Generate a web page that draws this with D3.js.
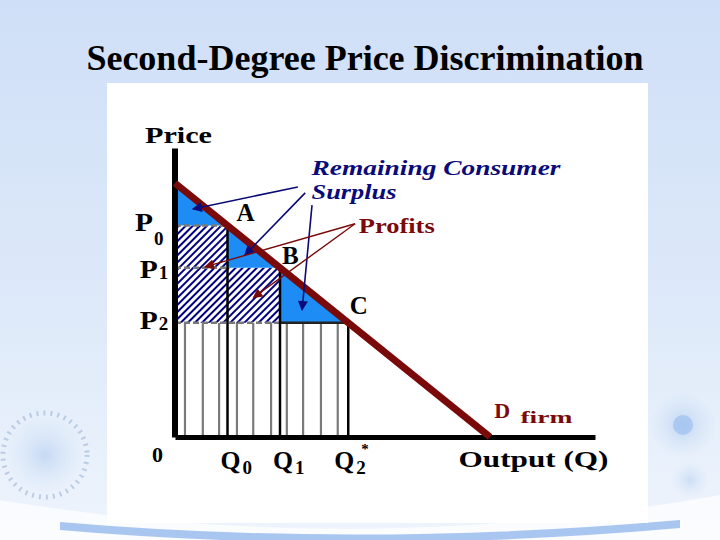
<!DOCTYPE html>
<html><head><meta charset="utf-8">
<script src="https://cdn.jsdelivr.net/npm/d3@7"></script>
<style>html,body{margin:0;padding:0;background:#fff;}svg{display:block;}</style>
</head><body>
<svg id="c" width="720" height="540"></svg>
<script>
// ---- data (model units: quantity Q, price P) ----
const titleText = "Second-Degree Price Discrimination";
const demandQ = [0, 6];
const demandP = [6, 0];
const stepQ = [1, 2, 3.3];          // Q0, Q1, Q*2
const stepP = [5, 4, 2.7];          // P0, P1, P2
const blockLabels = ["A", "B", "C"];
const priceLabels = ["P", "P", "P"];
const priceSubs = ["0", "1", "2"];
const qtyLabels = ["Q", "Q", "Q"];
const qtySubs = ["0", "1", "2"];
const gridQ = [0.19, 0.53, 0.84, 1.18, 1.49, 1.83, 2.13, 2.44, 2.78, 3.10];
const csArrows = [ // [tailQ, tailP, headQ, headP]
  [2.34, 5.91, 0.34, 5.39],
  [2.48, 5.77, 1.33, 4.30],
  [2.61, 5.48, 2.42, 3.00]
];
const profitArrows = [
  [3.43, 5.04, 0.57, 4.02],
  [3.43, 5.04, 1.49, 3.29]
];

const svg = d3.select("#c");
const defs = svg.append("defs");

// ---- slide background ----
const bg = defs.append("linearGradient").attr("id","bg").attr("x1",0).attr("y1",0).attr("x2",0).attr("y2",1);
bg.append("stop").attr("offset","0%").attr("stop-color","#cfdff7");
bg.append("stop").attr("offset","55%").attr("stop-color","#dde9f9");
bg.append("stop").attr("offset","100%").attr("stop-color","#eef4fc");
svg.append("rect").attr("width",720).attr("height",540).attr("fill","url(#bg)");
const rg = defs.append("radialGradient").attr("id","orb");
rg.append("stop").attr("offset","0%").attr("stop-color","#9fc0ec").attr("stop-opacity",0.8);
rg.append("stop").attr("offset","100%").attr("stop-color","#cfe0f7").attr("stop-opacity",0.1);
const deco = svg.append("g");
deco.append("circle").attr("cx",45).attr("cy",455).attr("r",38).attr("fill","url(#orb)").attr("opacity",0.6);
deco.append("circle").attr("cx",45).attr("cy",455).attr("r",42).attr("fill","none").attr("stroke","#9db6d6").attr("stroke-width",5).attr("stroke-dasharray","2 5").attr("opacity",0.6);
deco.append("circle").attr("cx",683).attr("cy",425).attr("r",32).attr("fill","url(#orb)").attr("opacity",0.7);
deco.append("circle").attr("cx",683).attr("cy",425).attr("r",10).attr("fill","#9cc0f0").attr("opacity",0.7);
deco.append("circle").attr("cx",690).attr("cy",480).attr("r",18).attr("fill","url(#orb)").attr("opacity",0.5);
deco.append("path").attr("d","M0,500 Q360,560 720,495 L720,540 L0,540 Z").attr("fill","#ffffff").attr("opacity",0.7);
deco.append("path").attr("d","M60,522 Q360,548 680,520 L680,528 Q360,556 60,530 Z").attr("fill","#a9c6f0");

// ---- title ----
svg.append("text").attr("x",365).attr("y",70).attr("text-anchor","middle")
  .attr("font-family","'Liberation Serif','Times New Roman',serif").attr("font-weight","bold")
  .attr("font-size",36).attr("fill","#000").text(titleText);

// ---- white chart panel ----
svg.append("rect").attr("x",107).attr("y",83).attr("width",541).attr("height",440).attr("fill","#fff");

// ---- scales ----
const x = d3.scaleLinear().domain([0, 8]).range([175, 595]);
const y = d3.scaleLinear().domain([0, 6.83]).range([437, 148]);
const pt = (q,p) => [x(q), y(p)];

// patterns
const hatch = defs.append("pattern").attr("id","hatch").attr("patternUnits","userSpaceOnUse")
  .attr("width",5).attr("height",5).attr("patternTransform","rotate(45)");
hatch.append("rect").attr("width",5).attr("height",5).attr("fill","#fff");
hatch.append("rect").attr("x",0).attr("y",0).attr("width",2).attr("height",5).attr("fill","#000080");

const g = svg.append("g");
const line = d3.line();

// revenue block below P2 with vertical lines
g.append("rect").attr("x",x(0)).attr("y",y(stepP[2])).attr("width",x(stepQ[2])-x(0)).attr("height",y(0)-y(stepP[2])).attr("fill","#fff");
g.selectAll(".gl").data(gridQ).join("line").attr("class","gl")
  .attr("x1",d=>x(d)).attr("x2",d=>x(d)).attr("y1",y(stepP[2])).attr("y2",y(0))
  .attr("stroke","#7a7a7a").attr("stroke-width",2.2);

// hatched profit region above P2
const hatchPoly = [pt(0,stepP[0]), pt(stepQ[0],stepP[0]), pt(stepQ[0],stepP[1]), pt(stepQ[1],stepP[1]), pt(stepQ[1],stepP[2]), pt(0,stepP[2])];
g.append("path").attr("d", line(hatchPoly)+"Z").attr("fill","url(#hatch)");

// consumer-surplus triangles
const prevQ = [0, stepQ[0], stepQ[1]];
const prevP = [demandP[0], stepP[0], stepP[1]];
g.selectAll(".tri").data(d3.range(3)).join("path").attr("class","tri")
  .attr("d", i => line([pt(prevQ[i],prevP[i]), pt(stepQ[i],stepP[i]), pt(prevQ[i],stepP[i])])+"Z")
  .attr("fill","#1e8cf5");

// dashed price guides
g.selectAll(".pg").data(d3.range(3)).join("line").attr("class","pg")
  .attr("x1",x(0)).attr("x2",(d,i)=> x(i===2 ? stepQ[1] : stepQ[0]))
  .attr("y1",(d,i)=>y(stepP[i])).attr("y2",(d,i)=>y(stepP[i]))
  .attr("stroke","#7a7a7a").attr("stroke-width",2.5).attr("stroke-dasharray","6 3");
// bottom of C
g.append("line").attr("x1",x(stepQ[1])).attr("x2",x(stepQ[2])).attr("y1",y(stepP[2])).attr("y2",y(stepP[2]))
  .attr("stroke","#222").attr("stroke-width",2.5);
// vertical quantity lines
g.selectAll(".ql").data(d3.range(3)).join("line").attr("class","ql")
  .attr("x1",i=>x(stepQ[i])).attr("x2",i=>x(stepQ[i])).attr("y1",i=>y(stepP[i])).attr("y2",y(0))
  .attr("stroke","#000").attr("stroke-width",2.5);

// axes (domain lines only)
const xAxis = g.append("g").attr("transform",`translate(0,${y(0)})`)
  .call(d3.axisBottom(x).tickValues([]).tickSizeOuter(0));
xAxis.select(".domain").attr("stroke","#000").attr("stroke-width",5);
const yAxis = g.append("g").attr("transform",`translate(${x(0)-0.5},0)`)
  .call(d3.axisLeft(y).tickValues([]).tickSizeOuter(0));
yAxis.select(".domain").attr("stroke","#000").attr("stroke-width",6);

// demand curve
g.append("path").attr("d", line(demandQ.map((q,i)=>pt(q,demandP[i]))))
  .attr("stroke","#7a0a0a").attr("stroke-width",7).attr("fill","none");

// arrow markers
function marker(id,color){
  defs.append("marker").attr("id",id).attr("viewBox","0 0 10 10").attr("refX",9).attr("refY",5)
    .attr("markerWidth",13).attr("markerHeight",10).attr("markerUnits","userSpaceOnUse").attr("orient","auto")
    .append("path").attr("d","M0,0 L10,5 L0,10 Z").attr("fill",color);
}
marker("mNavy","#0a0a78");
marker("mRed","#7a0a0a");
g.selectAll(".csa").data(csArrows).join("line").attr("class","csa")
  .attr("x1",d=>x(d[0])).attr("y1",d=>y(d[1])).attr("x2",d=>x(d[2])).attr("y2",d=>y(d[3]))
  .attr("stroke","#0a0a78").attr("stroke-width",1.6).attr("marker-end","url(#mNavy)");
g.selectAll(".pra").data(profitArrows).join("line").attr("class","pra")
  .attr("x1",d=>x(d[0])).attr("y1",d=>y(d[1])).attr("x2",d=>x(d[2])).attr("y2",d=>y(d[3]))
  .attr("stroke","#7a0a0a").attr("stroke-width",1.4).attr("marker-end","url(#mRed)");

// ---- labels ----
const serif = "'Liberation Serif','Times New Roman',serif";
function txt(xp, yp, s, opt={}) {
  const t = g.append("text").attr("x",xp).attr("y",yp).attr("font-family",serif)
    .attr("font-weight","bold").attr("font-size",opt.size||22).attr("fill",opt.fill||"#000")
    .attr("font-style",opt.italic?"italic":"normal").text(s);
  if (opt.w) t.attr("textLength",opt.w).attr("lengthAdjust","spacingAndGlyphs");
  return t;
}
txt(x(0)-30, y(6.83)-5, "Price", {size:23, w:67});
txt(x(2.6), y(6.2), "Remaining Consumer", {size:21, italic:true, fill:"#0a0a78", w:249});
txt(x(2.6), y(5.63), "Surplus", {size:21, italic:true, fill:"#0a0a78", w:85});
txt(x(3.5), y(4.81), "Profits", {size:20, fill:"#7a0a0a", w:76});
const blockPos = [[1.17, 5.1], [2.04, 4.1], [3.33, 2.9]];
blockLabels.forEach((s,i)=> txt(x(blockPos[i][0]), y(blockPos[i][1]), s, {size:25}));
const pLabQ = [-0.76, -0.67, -0.67];
const pLabDy = [6, 10, 6];
stepP.forEach((p,i)=>{
  txt(x(pLabQ[i]), y(p)+pLabDy[i], priceLabels[i], {size:25, w:18});
  txt(x(pLabQ[i])+19, y(p)+pLabDy[i]+(i===0?14:1), priceSubs[i], {size:19});
});
txt(x(-0.44), y(0)+25, "0", {size:22});
stepQ.forEach((q,i)=>{
  const qx = x(q) - (i===2 ? 14 : 7);
  txt(qx, y(0)+32, qtyLabels[i], {size:25, w:20});
  txt(qx+22, y(0)+37, qtySubs[i], {size:19});
});
txt(x(stepQ[2])+13, y(0)+17, "*", {size:15});
txt(x(5.4), y(0)+30, "Output (Q)", {size:23, w:150});
txt(x(6.08), y(0)-19, "D", {size:22, fill:"#7a0a0a"});
txt(x(6.58), y(0)-14, "firm", {size:17, fill:"#7a0a0a", w:52});
</script>
</body></html>
